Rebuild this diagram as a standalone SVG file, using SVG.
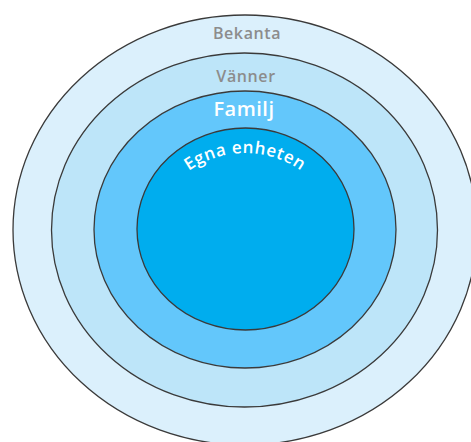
<svg xmlns="http://www.w3.org/2000/svg" width="471" height="442" viewBox="0 0 471 442">
<style>
.ring{stroke:#3a3a3a;stroke-width:1.3}
.gray{font-family:"Open Sans","Liberation Sans",sans-serif;font-weight:600;fill:#8c8c8c;text-anchor:middle;letter-spacing:0.6px}
.white{font-family:"Open Sans","Liberation Sans",sans-serif;font-weight:600;fill:#ffffff;text-anchor:middle}
</style>
<defs>
<path id="arc" d="M 148,250 A 97,97 0 0 1 342,250"/>
</defs>
<rect width="471" height="442" fill="#ffffff"/>
<g id="bekanta">
<ellipse class="ring" cx="245" cy="230" rx="232" ry="215" fill="#dbf0fc"/>
<text class="gray" x="247" y="39" font-size="16">Bekanta</text>
</g>
<g id="vanner">
<ellipse class="ring" cx="244.5" cy="230" rx="193" ry="177" fill="#bde5f9"/>
<text class="gray" x="246" y="82" font-size="16">Vänner</text>
</g>
<g id="familj">
<ellipse class="ring" cx="245" cy="229.5" rx="151" ry="138.5" fill="#63c7fb"/>
<text class="white" x="244" y="116" font-size="20" letter-spacing="0.5">Familj</text>
</g>
<g id="egna">
<ellipse class="ring" cx="245.5" cy="229" rx="108.5" ry="101" fill="#00adee"/>
<text class="white" font-size="17" letter-spacing="0.6"><textPath href="#arc" startOffset="50%">Egna enheten</textPath></text>
</g>
<g id="connectors"/>
</svg>
